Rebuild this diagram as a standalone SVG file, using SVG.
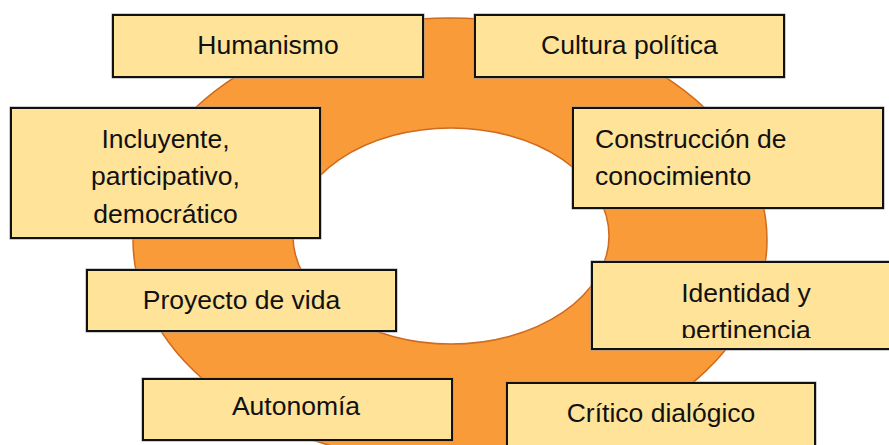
<svg xmlns="http://www.w3.org/2000/svg" width="889" height="445" viewBox="0 0 889 445">
<style>
.box{fill:#FFE399;stroke:#111;stroke-width:2}
.halo{fill:none;stroke:#9a9a9a;stroke-width:1}
.t{font-family:"Liberation Sans",Arial,sans-serif;font-size:26.5px;fill:#111}
.c{text-anchor:middle}
</style>
<defs>
<clipPath id="clipId"><rect x="592" y="262" width="300" height="76"/></clipPath>
</defs>
<rect width="889" height="445" fill="#fff"/>
<g id="ring">
<path d="M133,240 A317,222 0 1,0 767,240 A317,222 0 1,0 133,240 Z M293,236 A158,108 0 1,1 609,236 A158,108 0 1,1 293,236 Z" fill="#F99B38" fill-rule="evenodd" stroke="#CF6A1E" stroke-width="1.5"/>
</g>
<g id="connectors"></g>
<g id="humanismo">
<rect class="halo" x="112" y="14" width="312" height="64"/>
<rect class="box" x="113" y="15" width="310" height="62"/>
<text class="t c" x="268" y="54">Humanismo</text>
</g>
<g id="cultura">
<rect class="halo" x="474" y="14" width="311" height="64"/>
<rect class="box" x="475" y="15" width="309" height="62"/>
<text class="t c" x="629.5" y="54">Cultura política</text>
</g>
<g id="incluyente">
<rect class="halo" x="10" y="107" width="311" height="132"/>
<rect class="box" x="11" y="108" width="309" height="130"/>
<text class="t c" x="165.5" y="148">Incluyente,</text>
<text class="t c" x="165.5" y="185">participativo,</text>
<text class="t c" x="165.5" y="223">democrático</text>
</g>
<g id="construccion">
<rect class="halo" x="572" y="107" width="312" height="102"/>
<rect class="box" x="573" y="108" width="310" height="100"/>
<text class="t" x="595" y="148">Construcción de</text>
<text class="t" x="595" y="185">conocimiento</text>
</g>
<g id="proyecto">
<rect class="halo" x="86" y="269" width="311" height="63"/>
<rect class="box" x="87" y="270" width="309" height="61"/>
<text class="t c" x="241.5" y="309">Proyecto de vida</text>
</g>
<g id="identidad">
<rect class="halo" x="591" y="261" width="311" height="89"/>
<rect class="box" x="592" y="262" width="309" height="87"/>
<g clip-path="url(#clipId)">
<text class="t c" x="746" y="302">Identidad y</text>
<text class="t c" x="746" y="339">pertinencia</text>
</g>
</g>
<g id="autonomia">
<rect class="halo" x="142" y="378" width="311" height="63"/>
<rect class="box" x="143" y="379" width="309" height="61"/>
<text class="t c" x="296" y="415">Autonomía</text>
</g>
<g id="critico">
<rect class="halo" x="506" y="382" width="310" height="70"/>
<rect class="box" x="507" y="383" width="308" height="68"/>
<text class="t c" x="661" y="422">Crítico dialógico</text>
</g>
</svg>
